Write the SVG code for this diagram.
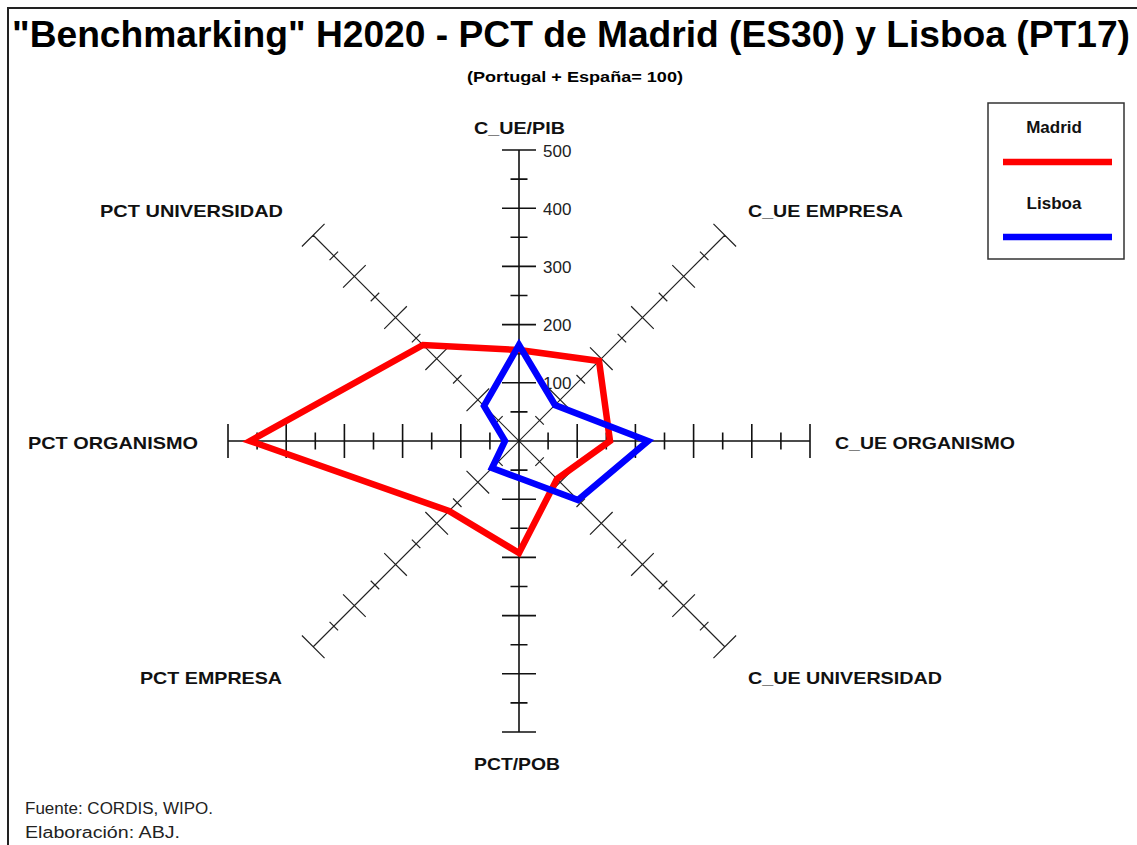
<svg xmlns="http://www.w3.org/2000/svg" width="1137" height="845" viewBox="0 0 1137 845">
<style>
.title{font-family:"Liberation Sans",Arial,sans-serif;font-weight:bold;fill:#000}
.lab{font-family:"Liberation Sans",Arial,sans-serif;font-weight:bold;font-size:17px;fill:#111}
.num{font-family:"Liberation Sans",Arial,sans-serif;font-size:17px;fill:#222}
.foot{font-family:"Liberation Sans",Arial,sans-serif;font-size:16px;fill:#222}
.ax{fill:none;stroke:#111;stroke-width:1.6}
.axd{fill:none;stroke:#222;stroke-width:1.2}
.madrid{fill:none;stroke:#ff0000;stroke-width:6.5;stroke-linejoin:miter;stroke-miterlimit:4}
.lisboa{fill:none;stroke:#0000ff;stroke-width:6.5;stroke-linejoin:miter;stroke-miterlimit:4}
</style>
<defs>
<path id="axO" d="M-291,0H291 M58.2,-17v34 M116.4,-17v34 M174.6,-17v34 M232.8,-17v34 M291,-17v34 M-58.2,-17v34 M-116.4,-17v34 M-174.6,-17v34 M-232.8,-17v34 M-291,-17v34 M29.1,-8.5v17 M87.3,-8.5v17 M145.5,-8.5v17 M203.7,-8.5v17 M261.9,-8.5v17 M-29.1,-8.5v17 M-87.3,-8.5v17 M-145.5,-8.5v17 M-203.7,-8.5v17 M-261.9,-8.5v17"/>
<path id="axD" d="M-291,0H291 M58.2,-16v32 M116.4,-16v32 M174.6,-16v32 M232.8,-16v32 M291,-16v32 M-58.2,-16v32 M-116.4,-16v32 M-174.6,-16v32 M-232.8,-16v32 M-291,-16v32 M29.1,-6v12 M87.3,-6v12 M145.5,-6v12 M203.7,-6v12 M261.9,-6v12 M-29.1,-6v12 M-87.3,-6v12 M-145.5,-6v12 M-203.7,-6v12 M-261.9,-6v12"/>
</defs>
<rect width="1137" height="845" fill="#fff"/>
<path d="M8,845V8H1137" fill="none" stroke="#222" stroke-width="2"/>
<text class="title" x="12" y="47" font-size="36" textLength="1118" lengthAdjust="spacingAndGlyphs">"Benchmarking" H2020 - PCT de Madrid (ES30) y Lisboa (PT17)</text>
<text class="title" x="467" y="82" font-size="14" textLength="216" lengthAdjust="spacingAndGlyphs">(Portugal + España= 100)</text>
<g id="axes">
<use href="#axD" class="axd" transform="translate(519,441) rotate(45)"/>
<use href="#axD" class="axd" transform="translate(519,441) rotate(-45)"/>
<use href="#axO" class="ax" transform="translate(519,441)"/>
<use href="#axO" class="ax" transform="translate(519,441) rotate(90)"/>
</g>
<g id="scale">
<text class="num" x="543" y="157">500</text>
<text class="num" x="543" y="215">400</text>
<text class="num" x="543" y="273">300</text>
<text class="num" x="543" y="331">200</text>
<text class="num" x="543" y="389">100</text>
</g>
<g id="axis-labels">
<text class="lab" x="474" y="134" textLength="91" lengthAdjust="spacingAndGlyphs">C_UE/PIB</text>
<text class="lab" x="100" y="217" textLength="183" lengthAdjust="spacingAndGlyphs">PCT UNIVERSIDAD</text>
<text class="lab" x="748" y="217" textLength="155" lengthAdjust="spacingAndGlyphs">C_UE EMPRESA</text>
<text class="lab" x="28" y="449" textLength="170" lengthAdjust="spacingAndGlyphs">PCT ORGANISMO</text>
<text class="lab" x="835" y="449" textLength="180" lengthAdjust="spacingAndGlyphs">C_UE ORGANISMO</text>
<text class="lab" x="140" y="684" textLength="142" lengthAdjust="spacingAndGlyphs">PCT EMPRESA</text>
<text class="lab" x="748" y="684" textLength="194" lengthAdjust="spacingAndGlyphs">C_UE UNIVERSIDAD</text>
<text class="lab" x="474" y="770" textLength="86" lengthAdjust="spacingAndGlyphs">PCT/POB</text>
</g>
<g id="series">
<polygon id="madrid" class="madrid" points="519,350 599,361 610,441 557,479 519,553 449,511 250,441 423,345"/>
<polygon id="lisboa" class="lisboa" points="519,345 555,405 648,441 578,500 519,478 492,468 505,441 484,406"/>
</g>
<g id="legend">
<rect x="988" y="103" width="136" height="156" fill="#fff" stroke="#333" stroke-width="1.5"/>
<text class="lab" x="1054" y="133" text-anchor="middle" font-size="16">Madrid</text>
<line x1="1003" y1="162" x2="1112" y2="162" class="madrid" stroke-width="7"/>
<text class="lab" x="1054" y="209" text-anchor="middle" font-size="16">Lisboa</text>
<line x1="1003" y1="237" x2="1112" y2="237" class="lisboa" stroke-width="7"/>
</g>
<g id="footer">
<text class="foot" x="25" y="814" textLength="188" lengthAdjust="spacingAndGlyphs">Fuente: CORDIS, WIPO.</text>
<text class="foot" x="25" y="838" textLength="155" lengthAdjust="spacingAndGlyphs">Elaboración: ABJ.</text>
</g>
</svg>
